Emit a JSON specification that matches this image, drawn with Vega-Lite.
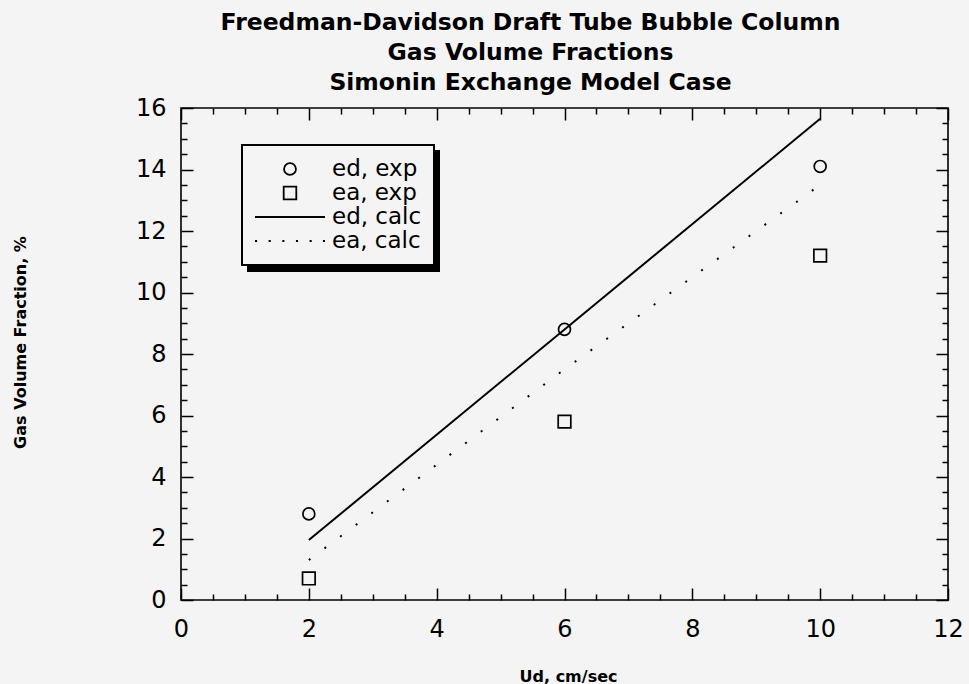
{
  "$schema": "https://vega.github.io/schema/vega-lite/v6.json",
  "width": 767,
  "height": 492,
  "autosize": "none",
  "padding": {"left": 181, "top": 108, "right": 21, "bottom": 84},
  "background": "#f4f4f4",
  "title": {
    "text": ["Freedman-Davidson Draft Tube Bubble Column", "Gas Volume Fractions", "Simonin Exchange Model Case"],
    "font": "DejaVu Sans",
    "fontSize": 23.5,
    "fontWeight": "bold",
    "color": "black",
    "lineHeight": 30,
    "anchor": "middle",
    "dx": -34,
    "offset": 2
  },
  "datasets": {
    "points": [
      {"x": 2, "y": 2.8, "series": "ed, exp"},
      {"x": 6, "y": 8.8, "series": "ed, exp"},
      {"x": 10, "y": 14.1, "series": "ed, exp"},
      {"x": 2, "y": 0.7, "series": "ea, exp"},
      {"x": 6, "y": 5.8, "series": "ea, exp"},
      {"x": 10, "y": 11.2, "series": "ea, exp"}
    ],
    "lines": [
      {"x": 2, "y": 1.95, "series": "ed, calc"},
      {"x": 6, "y": 8.8, "series": "ed, calc"},
      {"x": 10, "y": 15.65, "series": "ed, calc"},
      {"x": 2, "y": 1.3, "series": "ea, calc"},
      {"x": 6, "y": 7.5, "series": "ea, calc"},
      {"x": 10, "y": 13.5, "series": "ea, calc"}
    ]
  },
  "layer": [
    {
      "data": {"name": "lines"},
      "transform": [{"filter": "datum.series === 'ed, calc'"}],
      "mark": {"type": "line", "color": "black"},
      "encoding": {
        "x": {"field": "x", "type": "quantitative",
          "scale": {"domain": [0, 12], "nice": false, "zero": false},
          "axis": {"orient": "bottom", "values": [0,0.5,1,1.5,2,2.5,3,3.5,4,4.5,5,5.5,6,6.5,7,7.5,8,8.5,9,9.5,10,10.5,11,11.5,12],
            "labels": false, "domain": false, "grid": false, "title": null, "ticks": true,
            "tickColor": "black", "tickWidth": 1.5,
            "tickSize": {"condition": {"test": "datum.value % 2 === 0", "value": -12}, "value": -6}}},
        "y": {"field": "y", "type": "quantitative",
          "scale": {"domain": [0, 16], "nice": false, "zero": false},
          "axis": {"orient": "left", "values": [0,0.5,1,1.5,2,2.5,3,3.5,4,4.5,5,5.5,6,6.5,7,7.5,8,8.5,9,9.5,10,10.5,11,11.5,12,12.5,13,13.5,14,14.5,15,15.5,16],
            "labels": false, "domain": false, "grid": false, "title": null, "ticks": true,
            "tickColor": "black", "tickWidth": 1.5,
            "tickSize": {"condition": {"test": "datum.value % 2 === 0", "value": -12}, "value": -6}}},
        "strokeWidth": {"field": "series", "type": "nominal",
          "scale": {"domain": ["ea, calc", "ed, calc", "ea, exp", "ed, exp"], "range": [2, 2, 2, 2]},
          "legend": {"orient": "none", "legendX": 67, "legendY": 43, "title": null,
            "labelFont": "DejaVu Sans", "labelFontSize": 23, "labelColor": "transparent", "labelOffset": 95,
            "labelExpr": "''",
            "symbolType": "M-1,0H1", "symbolSize": 4900, "symbolOpacity": 0, "clipHeight": 24,
            "strokeColor": "black", "fillColor": "black", "padding": 12, "rowPadding": 0}}
      }
    },
    {
      "data": {"name": "lines"},
      "transform": [{"filter": "datum.series === 'ea, calc'"}],
      "mark": {"type": "line", "color": "black", "strokeWidth": 2, "strokeDash": [2, 17.5], "strokeCap": "butt"},
      "encoding": {
        "x": {"field": "x", "type": "quantitative",
          "axis": {"orient": "top", "values": [0,0.5,1,1.5,2,2.5,3,3.5,4,4.5,5,5.5,6,6.5,7,7.5,8,8.5,9,9.5,10,10.5,11,11.5,12],
            "labels": false, "domain": false, "grid": false, "title": null, "ticks": true,
            "tickColor": "black", "tickWidth": 1.5,
            "tickSize": {"condition": {"test": "datum.value % 2 === 0", "value": -12}, "value": -6}}},
        "y": {"field": "y", "type": "quantitative",
          "axis": {"orient": "right", "values": [0,0.5,1,1.5,2,2.5,3,3.5,4,4.5,5,5.5,6,6.5,7,7.5,8,8.5,9,9.5,10,10.5,11,11.5,12,12.5,13,13.5,14,14.5,15,15.5,16],
            "labels": false, "domain": false, "grid": false, "title": null, "ticks": true,
            "tickColor": "black", "tickWidth": 1.5,
            "tickSize": {"condition": {"test": "datum.value % 2 === 0", "value": -12}, "value": -6}}}
      }
    },
    {
      "data": {"name": "points"},
      "mark": {"type": "point", "filled": false, "color": "black", "strokeWidth": 1.7, "size": 4900, "opacity": 1},
      "encoding": {
        "x": {"field": "x", "type": "quantitative",
          "axis": {"orient": "bottom", "values": [0,2,4,6,8,10,12], "ticks": false, "domain": false, "grid": false,
            "labelFont": "DejaVu Sans", "labelFontSize": 24, "labelColor": "black", "labelPadding": 17, "labelFlush": false,
            "title": "Ud, cm/sec", "titleFont": "DejaVu Sans", "titleFontSize": 16, "titleFontWeight": "bold", "titleColor": "black",
            "titleX": 387, "titleY": 76, "titleBaseline": "middle", "titleAlign": "center"}},
        "y": {"field": "y", "type": "quantitative",
          "axis": {"orient": "left", "values": [0,2,4,6,8,10,12,14,16], "ticks": false, "domain": false, "grid": false,
            "labelFont": "DejaVu Sans", "labelFontSize": 24, "labelColor": "black", "labelPadding": 15, "labelFlush": false,
            "title": "Gas Volume Fraction, %", "titleFont": "DejaVu Sans", "titleFontSize": 16, "titleFontWeight": "bold", "titleColor": "black",
            "titleX": -161, "titleY": 234, "titleBaseline": "middle", "titleAlign": "center", "titleAngle": -90}},
        "shape": {"field": "series", "type": "nominal",
          "scale": {"domain": ["ed, exp", "ea, exp", "ed, calc", "ea, calc"],
            "range": [
              "M-0.17,0A0.17,0.17,0,1,0,0.17,0A0.17,0.17,0,1,0,-0.17,0Z",
              "M-0.18,-0.18H0.18V0.18H-0.18Z",
              "M-1,0H1",
              "M-1,0H-0.94M-0.61,0H-0.55M-0.22,0H-0.16M0.17,0H0.23M0.56,0H0.62M0.94,0H1"
            ]},
          "legend": {"orient": "none", "legendX": 61, "legendY": 37, "title": null,
            "labelFont": "DejaVu Sans", "labelFontSize": 23, "labelColor": "black", "labelOffset": 6,
            "symbolSize": 4900, "symbolStrokeWidth": 1.8, "symbolStrokeColor": "black", "symbolFillColor": "transparent",
            "clipHeight": 24,
            "strokeColor": "black", "fillColor": "#f4f4f4", "padding": 12, "rowPadding": 0}}
      }
    }
  ],
  "resolve": {"axis": {"x": "independent", "y": "independent"}},
  "config": {
    "view": {"stroke": "black", "strokeWidth": 1.6},
    "legend": {"strokeWidth": 2}
  }
}
